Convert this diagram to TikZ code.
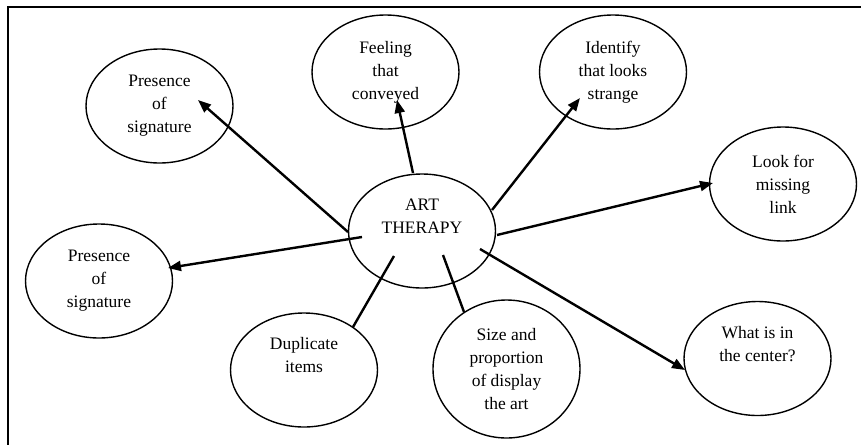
\documentclass[tikz,border=0pt]{standalone}
\usepackage{fontspec}
\setmainfont{Liberation Serif}
\usetikzlibrary{shapes.geometric,arrows.meta,calc}
\begin{document}
\begin{tikzpicture}[x=1pt,y=-1pt,
  bubble/.style={draw,ellipse,line width=1.4pt,minimum width=147pt,minimum height=114pt,inner sep=0pt,align=center,font=\fontsize{17.5}{23}\selectfont},
  link/.style={line width=2.4pt},
  arrowlink/.style={link,-{Triangle[length=13pt,width=10pt]}},
  frame/.style={line width=2pt}]
\useasboundingbox (0,0) rectangle (861,445);
% frame
\coordinate (fr1) at (861,7);
\coordinate (fr2) at (7.5,7);
\coordinate (fr3) at (7.5,445);
\draw[frame] (fr1) -- (fr2) -- (fr3);
% nodes
\node[bubble] (art) at (422,231) {ART\\THERAPY\\\strut};
\node[bubble] (ptl) at (159.5,106) {Presence\\of\\signature};
\node[bubble] (feel) at (385.5,72) {Feeling\\that\\conveyed};
\node[bubble] (ident) at (613,72) {Identify\\that looks\\strange};
\node[bubble] (look) at (783,184) {Look for\\missing\\link};
\node[bubble] (pl) at (99,281) {Presence\\of\\signature};
\node[bubble] (dup) at (304,370) {Duplicate\\items\\\strut};
\node[bubble,minimum height=138pt] (size) at (506.5,369) {Size and\\proportion\\of display\\the art};
\node[bubble] (what) at (757.5,358.5) {What is in\\the center?\\\strut};
% connectors
\draw[arrowlink] ($(art.center)+(-74,1)$) -- ($(ptl.center)+(38.5,-6)$);
\draw[arrowlink] ($(art.center)+(-9,-58)$) -- ($(feel.center)+(11.5,28)$);
\draw[arrowlink] ($(art.center)+(70,-21)$) -- ($(ident.center)+(-33,26)$);
\draw[arrowlink] ($(art.center)+(75,4)$) -- ($(look.center)+(-70,-1)$);
\draw[arrowlink] ($(art.center)+(-60,6)$) -- ($(pl.center)+(69,-13)$);
\draw[link] ($(art.center)+(-28,25)$) -- ($(dup.center)+(49,-43)$);
\draw[link] ($(art.center)+(21,24)$) -- ($(size.center)+(-42.5,-57)$);
\draw[arrowlink] ($(art.center)+(58,18)$) -- ($(what.center)+(-72.5,11.5)$);
\end{tikzpicture}
\end{document}
